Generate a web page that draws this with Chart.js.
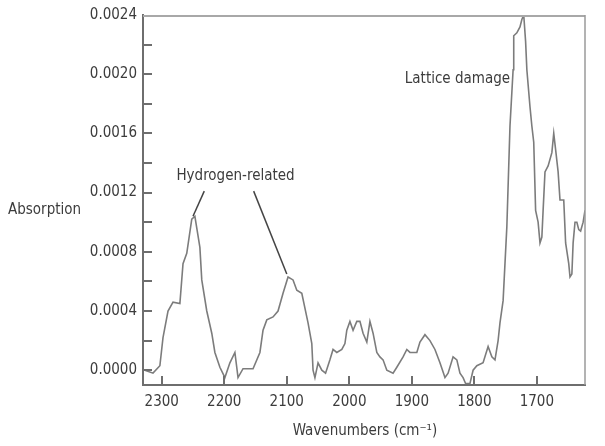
<!DOCTYPE html>
<html>
<head>
<meta charset="utf-8">
<script src="https://cdn.jsdelivr.net/npm/chart.js@4/dist/chart.umd.min.js"></script>
<style>
  body { margin: 0; background: #fff; }
  #wrap { width: 605px; height: 446px; }
</style>
</head>
<body>
<div id="wrap"><canvas id="myChart"></canvas></div>
<script>
// wavenumbers (cm-1)
const wavenumbers = [
  2327, 2314, 2303, 2298, 2290, 2282, 2271, 2266, 2260, 2252, 2247, 2239,
  2236, 2228, 2220, 2215, 2207, 2199, 2191, 2183, 2178, 2170, 2154, 2143,
  2138, 2132, 2122, 2114, 2106, 2098, 2090, 2084, 2076, 2066, 2060, 2058,
  2055, 2050, 2044, 2038, 2031, 2026, 2020, 2012, 2007, 2004, 1999, 1994,
  1988, 1983, 1978, 1972, 1967, 1962, 1956, 1951, 1946, 1940, 1930, 1924,
  1914, 1908, 1903, 1892, 1887, 1879, 1871, 1863, 1855, 1847, 1842, 1834,
  1828, 1823, 1818, 1814, 1807, 1802, 1796, 1786, 1778, 1772, 1767, 1762,
  1759, 1754, 1748, 1743, 1738, 1737, 1732, 1727, 1724, 1721, 1718, 1716,
  1711, 1708, 1705, 1702, 1698, 1695, 1692, 1690, 1687, 1682, 1676, 1673,
  1670, 1666, 1663, 1657, 1654, 1649, 1647, 1644, 1642, 1639, 1636, 1633,
  1630, 1626, 1623
];
const absorption = [
  0.00000, -0.00002, 0.00003, 0.00022, 0.00040, 0.00046, 0.00045, 0.00072, 0.00079, 0.00102, 0.00104, 0.00083,
  0.00061, 0.00040, 0.00025, 0.00012, 0.00002, -0.00005, 0.00005, 0.00012, -0.00005, 0.00001, 0.00001, 0.00012,
  0.00027, 0.00034, 0.00036, 0.00040, 0.00052, 0.00063, 0.00061, 0.00054, 0.00052, 0.00032, 0.00018, 0.00000,
  -0.00005, 0.00005, 0.00000, -0.00002, 0.00007, 0.00014, 0.00012, 0.00014, 0.00018, 0.00027, 0.00033, 0.00027,
  0.00033, 0.00033, 0.00025, 0.00019, 0.00033, 0.00025, 0.00012, 0.00009, 0.00007, 0.00000, -0.00002, 0.00002,
  0.00009, 0.00014, 0.00012, 0.00012, 0.00019, 0.00024, 0.00020, 0.00014, 0.00005, -0.00005, -0.00002, 0.00009,
  0.00007, -0.00002, -0.00005, -0.00009, -0.00009, 0.00000, 0.00003, 0.00005, 0.00016, 0.00009, 0.00007, 0.00020,
  0.00032, 0.00047, 0.00097, 0.00165, 0.00203, 0.00226, 0.00228, 0.00232, 0.00237, 0.00240, 0.00222, 0.00203,
  0.00178, 0.00165, 0.00154, 0.00108, 0.00100, 0.00086, 0.00090, 0.00108, 0.00134, 0.00138, 0.00147, 0.00160,
  0.00149, 0.00134, 0.00115, 0.00115, 0.00086, 0.00072, 0.00063, 0.00065, 0.00086, 0.00100, 0.00100, 0.00095,
  0.00094, 0.00100, 0.00108
];

const xTicks = [2300, 2200, 2100, 2000, 1900, 1800, 1700];
const yTicks = [0, 0.0004, 0.0008, 0.0012, 0.0016, 0.0020, 0.0024];
const yMinorTicks = [0, 0.0002, 0.0004, 0.0006, 0.0008, 0.0010, 0.0012, 0.0014, 0.0016, 0.0018, 0.0020, 0.0022];

// labels placed in data coordinates: [wavenumber, absorption]
const hydrogenLabel = { text: 'Hydrogen-related', at: [2182, 0.00131] };
const hydrogenLeaders = [
  [[2232, 0.00121], [2250, 0.00104]],
  [[2153, 0.00121], [2100, 0.00065]]
];
const latticeLabel = { text: 'Lattice damage', at: [1827, 0.00197] };

const FONT = '"DejaVu Sans Condensed", "Liberation Sans", sans-serif';
const TEXT = '#3c3c3c';

const pts = wavenumbers.map((w, i) => ({ x: w, y: absorption[i] }));

const decor = {
  id: 'decor',
  afterDraw(chart) {
    const ctx = chart.ctx;
    const a = chart.chartArea;
    const xs = chart.scales.x, ys = chart.scales.y;
    ctx.save();
    // top and right frame
    ctx.strokeStyle = '#a8a8a8';
    ctx.lineWidth = 2;
    ctx.beginPath();
    ctx.moveTo(a.left, a.top + 1);
    ctx.lineTo(a.right, a.top + 1);
    ctx.stroke();
    ctx.strokeStyle = '#9a9a9a';
    ctx.lineWidth = 1.5;
    ctx.beginPath();
    ctx.moveTo(a.right, a.top);
    ctx.lineTo(a.right, a.bottom);
    ctx.stroke();

    // inward ticks
    ctx.strokeStyle = '#6e6e6e';
    ctx.lineWidth = 2;
    yMinorTicks.forEach(v => {
      const y = Math.round(ys.getPixelForValue(v));
      ctx.beginPath();
      ctx.moveTo(a.left, y);
      ctx.lineTo(a.left + 9, y);
      ctx.stroke();
    });
    xTicks.forEach(v => {
      const x = Math.round(xs.getPixelForValue(v));
      ctx.beginPath();
      ctx.moveTo(x, a.bottom);
      ctx.lineTo(x, a.bottom - 9);
      ctx.stroke();
    });

    // axis titles
    ctx.fillStyle = TEXT;
    ctx.font = '15px ' + FONT;
    ctx.textAlign = 'left';
    ctx.textBaseline = 'middle';
    ctx.fillText('Absorption', 8, 210);
    ctx.textAlign = 'center';
    ctx.fillText('Wavenumbers (cm\u207B\u00B9)', (a.left + a.right) / 2 + 1, 431);

    // annotations
    ctx.fillText(hydrogenLabel.text, xs.getPixelForValue(hydrogenLabel.at[0]), ys.getPixelForValue(hydrogenLabel.at[1]));
    ctx.fillText(latticeLabel.text, xs.getPixelForValue(latticeLabel.at[0]), ys.getPixelForValue(latticeLabel.at[1]));
    ctx.strokeStyle = '#444';
    ctx.lineWidth = 1.5;
    hydrogenLeaders.forEach(([p, q]) => {
      ctx.beginPath();
      ctx.moveTo(xs.getPixelForValue(p[0]), ys.getPixelForValue(p[1]));
      ctx.lineTo(xs.getPixelForValue(q[0]), ys.getPixelForValue(q[1]));
      ctx.stroke();
    });
    ctx.restore();
  }
};

new Chart(document.getElementById('myChart').getContext('2d'), {
  type: 'line',
  data: {
    datasets: [{
      data: pts,
      borderColor: '#7c7c7c',
      borderWidth: 1.6,
      pointRadius: 0,
      tension: 0,
      fill: false
    }]
  },
  options: {
    responsive: true,
    maintainAspectRatio: false,
    animation: false,
    layout: { padding: { left: 0, right: 20, top: 15, bottom: 0 } },
    plugins: { legend: { display: false }, tooltip: { enabled: false } },
    scales: {
      x: {
        type: 'linear',
        reverse: true,
        min: 1623,
        max: 2330,
        afterFit: s => { s.height = 61; },
        afterBuildTicks: s => { s.ticks = xTicks.map(v => ({ value: v })); },
        grid: { display: false, drawTicks: false },
        border: { display: true, color: '#6e6e6e', width: 2 },
        ticks: {
          padding: 8,
          color: TEXT,
          font: { family: FONT, size: 15 },
          maxRotation: 0,
          callback: v => String(v)
        }
      },
      y: {
        min: -0.0001,
        max: 0.0024,
        afterFit: s => { s.width = 143; },
        afterBuildTicks: s => { s.ticks = yTicks.map(v => ({ value: v })); },
        grid: { display: false, drawTicks: false },
        border: { display: true, color: '#6e6e6e', width: 2 },
        ticks: {
          padding: 6,
          color: TEXT,
          font: { family: FONT, size: 15 },
          callback: v => v.toFixed(4)
        }
      }
    }
  },
  plugins: [decor]
});
</script>
</body>
</html>
